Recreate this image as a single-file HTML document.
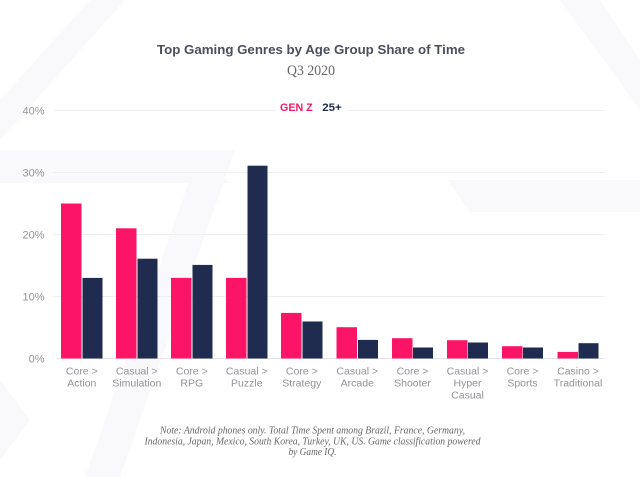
<!DOCTYPE html>
<html>
<head>
<meta charset="utf-8">
<style>
html,body{margin:0;padding:0;background:#fff;}
svg{display:block;}
</style>
</head>
<body>
<svg width="640" height="477" viewBox="0 0 640 477" xmlns="http://www.w3.org/2000/svg">
  <rect width="640" height="477" fill="#ffffff"/>
  <!-- faint watermark -->
  <g fill="#f9f9fb">
    <polygon points="0,150 200,150 230,183 0,183"/>
    <polygon points="447,180 640,180 640,212 470,212"/>
    <polygon points="200,150 235,150 120,477 85,477"/>
    <polygon points="560,0 600,0 640,60 640,110"/>
    <polygon points="0,380 30,420 0,460"/>
    <polygon points="90,0 125,0 0,140 0,100"/>
  </g>

  <!-- title -->
  <text x="311" y="54" text-anchor="middle" font-family="Liberation Sans, sans-serif" font-weight="bold" font-size="13" fill="#4a4f5e" textLength="308" lengthAdjust="spacingAndGlyphs">Top Gaming Genres by Age Group Share of Time</text>
  <text x="311" y="75" text-anchor="middle" font-family="Liberation Serif, serif" font-size="14.5" fill="#666" textLength="48" lengthAdjust="spacingAndGlyphs">Q3 2020</text>

  <!-- gridlines -->
  <g stroke="#efeff2" stroke-width="1">
    <line x1="53" y1="110.5" x2="605" y2="110.5"/>
    <line x1="53" y1="172.5" x2="605" y2="172.5"/>
    <line x1="53" y1="234.5" x2="605" y2="234.5"/>
    <line x1="53" y1="296.5" x2="605" y2="296.5"/>
  </g>
  <line x1="57" y1="358.5" x2="605" y2="358.5" stroke="#e3e3e8" stroke-width="1"/>

  <!-- legend -->
  <rect x="276" y="99" width="70" height="16" fill="#fff"/>
  <text x="280" y="111" font-family="Liberation Sans, sans-serif" font-weight="bold" font-size="11" fill="#f0186a" textLength="32.7" lengthAdjust="spacingAndGlyphs">GEN Z</text>
  <text x="322.3" y="111" font-family="Liberation Sans, sans-serif" font-weight="bold" font-size="11" fill="#1f2b4f" textLength="19.4" lengthAdjust="spacingAndGlyphs">25+</text>

  <!-- y labels -->
  <g font-family="Liberation Sans, sans-serif" font-size="11" fill="#929298" text-anchor="end">
    <text x="44.5" y="114.5">40%</text>
    <text x="44.5" y="176.5">30%</text>
    <text x="44.5" y="238.5">20%</text>
    <text x="44.5" y="300.5">10%</text>
    <text x="44.5" y="362.5">0%</text>
  </g>

  <!-- bars: pink -->
  <g fill="#fc1566">
    <rect x="61" y="203.5" width="20.5" height="155"/>
    <rect x="116" y="228.3" width="20.5" height="130.2"/>
    <rect x="171" y="277.9" width="20.5" height="80.6"/>
    <rect x="226" y="277.9" width="20.5" height="80.6"/>
    <rect x="281" y="312.9" width="20.5" height="45.6"/>
    <rect x="336.5" y="327.2" width="20.5" height="31.3"/>
    <rect x="392" y="338.2" width="20.5" height="20.3"/>
    <rect x="447" y="340.2" width="20.5" height="18.3"/>
    <rect x="502" y="346.2" width="20.5" height="12.3"/>
    <rect x="557.5" y="351.9" width="20.5" height="6.6"/>
  </g>
  <!-- bars: navy -->
  <g fill="#1f2b4f">
    <rect x="82.5" y="277.9" width="20" height="80.6"/>
    <rect x="137.5" y="258.7" width="20" height="99.8"/>
    <rect x="192.5" y="264.9" width="20" height="93.6"/>
    <rect x="247.5" y="165.7" width="20" height="192.8"/>
    <rect x="302.5" y="321.5" width="20" height="37"/>
    <rect x="358" y="339.9" width="20" height="18.6"/>
    <rect x="413" y="347.5" width="20" height="11"/>
    <rect x="468" y="342.5" width="20" height="16"/>
    <rect x="523" y="347.5" width="20" height="11"/>
    <rect x="578.5" y="343.2" width="20" height="15.3"/>
  </g>

  <!-- x labels -->
  <g font-family="Liberation Sans, sans-serif" font-size="10.5" fill="#929298" text-anchor="middle">
    <text x="81.8" y="374.5">Core &gt;</text><text x="81.8" y="386.5">Action</text>
    <text x="136.8" y="374.5">Casual &gt;</text><text x="136.8" y="386.5">Simulation</text>
    <text x="191.8" y="374.5">Core &gt;</text><text x="191.8" y="386.5">RPG</text>
    <text x="246.8" y="374.5">Casual &gt;</text><text x="246.8" y="386.5">Puzzle</text>
    <text x="301.8" y="374.5">Core &gt;</text><text x="301.8" y="386.5">Strategy</text>
    <text x="357.3" y="374.5">Casual &gt;</text><text x="357.3" y="386.5">Arcade</text>
    <text x="412.5" y="374.5">Core &gt;</text><text x="412.5" y="386.5">Shooter</text>
    <text x="467.5" y="374.5">Casual &gt;</text><text x="467.5" y="386.5">Hyper</text><text x="467.5" y="398.5">Casual</text>
    <text x="522.5" y="374.5">Core &gt;</text><text x="522.5" y="386.5">Sports</text>
    <text x="578" y="374.5">Casino &gt;</text><text x="578" y="386.5">Traditional</text>
  </g>

  <!-- note -->
  <g font-family="Liberation Serif, serif" font-style="italic" font-size="10" fill="#666" text-anchor="middle">
    <text x="312.5" y="433.5" textLength="305" lengthAdjust="spacingAndGlyphs">Note: Android phones only. Total Time Spent among Brazil, France, Germany,</text>
    <text x="312.5" y="444.5" textLength="336" lengthAdjust="spacingAndGlyphs">Indonesia, Japan, Mexico, South Korea, Turkey, UK, US. Game classification powered</text>
    <text x="312.5" y="455" textLength="48" lengthAdjust="spacingAndGlyphs">by Game IQ.</text>
  </g>
</svg>
</body>
</html>
